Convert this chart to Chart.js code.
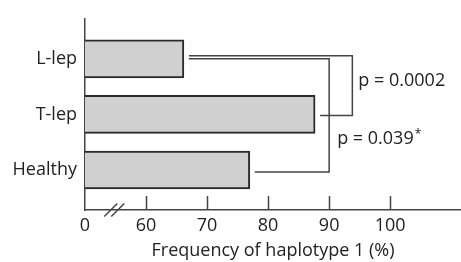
<!DOCTYPE html>
<html>
<head>
<meta charset="utf-8">
<script src="https://cdn.jsdelivr.net/npm/chart.js@4"></script>
<style>
  html, body { margin: 0; padding: 0; background: #fff; }
  #wrap { width: 461px; height: 262px; }
</style>
</head>
<body>
<div id="wrap"><canvas id="chart"></canvas></div>
<script>
// data
const categories = ["L-lep", "T-lep", "Healthy"];
const frequencies = [66.2, 87.7, 77.0];
const xTicks = [50, 60, 70, 80, 90, 100];
const xTickLabels = ["0", "60", "70", "80", "90", "100"];
const axisMin = 50, axisMax = 111.6;
const breakValue = 54.8;

// comparisons (category index pairs), bracket position, p values
const compareFrom = [0, 0];
const compareTo = [1, 2];
const bracketX = [93.8, 90];
const pTexts = ["p = 0.0002", "p = 0.039"];
const pStars = ["", "*"];

const FONT = "'Open Sans', 'DejaVu Sans', sans-serif";
const FSIZE = 18;
const INK = "#222";
const LINE = "#444";

// ---- extra drawing: inward ticks, axis break, brackets ----
const extras = {
    id: "extras",
    afterDatasetsDraw(chart) {
        const { ctx, chartArea, scales: { x, y } } = chart;
        ctx.save();
        ctx.strokeStyle = LINE;
        ctx.lineWidth = 1.5;

        // inward tick marks
        xTicks.slice(1).forEach(v => {
            const px = Math.round(x.getPixelForValue(v)) + 0.5;
            ctx.beginPath();
            ctx.moveTo(px, chartArea.bottom);
            ctx.lineTo(px, chartArea.bottom - 14);
            ctx.stroke();
        });

        // axis break "//"
        const bx = x.getPixelForValue(breakValue), by = chartArea.bottom;
        [-3.5, 3.5].forEach(o => {
            ctx.beginPath();
            ctx.moveTo(bx + o - 6.5, by + 6.5);
            ctx.lineTo(bx + o + 6.5, by - 6.5);
            ctx.stroke();
        });

        // brackets
        const topOff = [-3, 0], botOff = [1, 2];
        compareFrom.forEach((a, k) => {
            const b = compareTo[k];
            const xr = x.getPixelForValue(bracketX[k]);
            const ya = y.getPixelForValue(a) + topOff[k];
            const yb = y.getPixelForValue(b) + botOff[k];
            const xa = x.getPixelForValue(frequencies[a]) + 5;
            const xb = x.getPixelForValue(frequencies[b]) + 5;
            ctx.beginPath();
            ctx.moveTo(xa, ya);
            ctx.lineTo(xr, ya);
            ctx.lineTo(xr, yb);
            ctx.lineTo(xb, yb);
            ctx.stroke();
        });

        // p labels
        ctx.fillStyle = INK;
        ctx.textBaseline = "middle";
        ctx.textAlign = "left";
        const labelY = [
            (y.getPixelForValue(0) + y.getPixelForValue(1)) / 2 - 6,
            (y.getPixelForValue(1) + y.getPixelForValue(2)) / 2 - 3
        ];
        const labelGap = [6, 8];
        pTexts.forEach((t, k) => {
            const lx = x.getPixelForValue(bracketX[k]) + labelGap[k];
            ctx.font = FSIZE + "px " + FONT;
            ctx.fillText(t, lx, labelY[k]);
            if (pStars[k]) {
                const w = ctx.measureText(t).width;
                ctx.font = "12px " + FONT;
                ctx.fillText(pStars[k], lx + w + 1, labelY[k] - 5);
            }
        });
        ctx.restore();
    }
};

new Chart(document.getElementById("chart"), {
    type: "bar",
    data: {
        labels: categories,
        datasets: [{
            data: frequencies.map((v, i) => ({ x: v, y: i })),
            backgroundColor: "#d0d0d0",
            borderColor: "#2a2a2a",
            borderWidth: 2,
            borderSkipped: "start",
            barThickness: 38,
            base: axisMin
        }]
    },
    options: {
        indexAxis: "y",
        responsive: true,
        maintainAspectRatio: false,
        animation: false,
        events: [],
        layout: { padding: { top: 13, right: 0, left: 0, bottom: 0 } },
        plugins: { legend: { display: false }, tooltip: { enabled: false } },
        scales: {
            x: {
                type: "linear",
                min: axisMin,
                max: axisMax,
                afterBuildTicks: s => { s.ticks = xTicks.map(v => ({ value: v })); },
                afterFit: s => { s.height = 52; },
                grid: { display: false, drawTicks: false },
                border: { display: true, color: LINE, width: 1.5 },
                ticks: {
                    padding: 5,
                    color: INK,
                    font: { family: FONT, size: FSIZE },
                    callback: v => xTickLabels[xTicks.indexOf(v)]
                },
                title: {
                    display: true,
                    text: "Frequency of haplotype 1 (%)",
                    color: INK,
                    font: { family: FONT, size: FSIZE },
                    padding: { top: 7, bottom: 0 }
                }
            },
            y: {
                type: "linear",
                offset: false,
                reverse: true,
                min: -0.72,
                max: 2.72,
                afterBuildTicks: s => { s.ticks = categories.map((c, i) => ({ value: i })); },
                afterFit: s => { s.width = 85; },
                grid: { display: false, drawTicks: false, offset: false },
                border: { display: true, color: LINE, width: 1.5 },
                ticks: {
                    padding: 8,
                    color: INK,
                    font: { family: FONT, size: FSIZE },
                    callback: v => categories[v]
                }
            }
        }
    },
    plugins: [extras]
});
</script>
</body>
</html>
